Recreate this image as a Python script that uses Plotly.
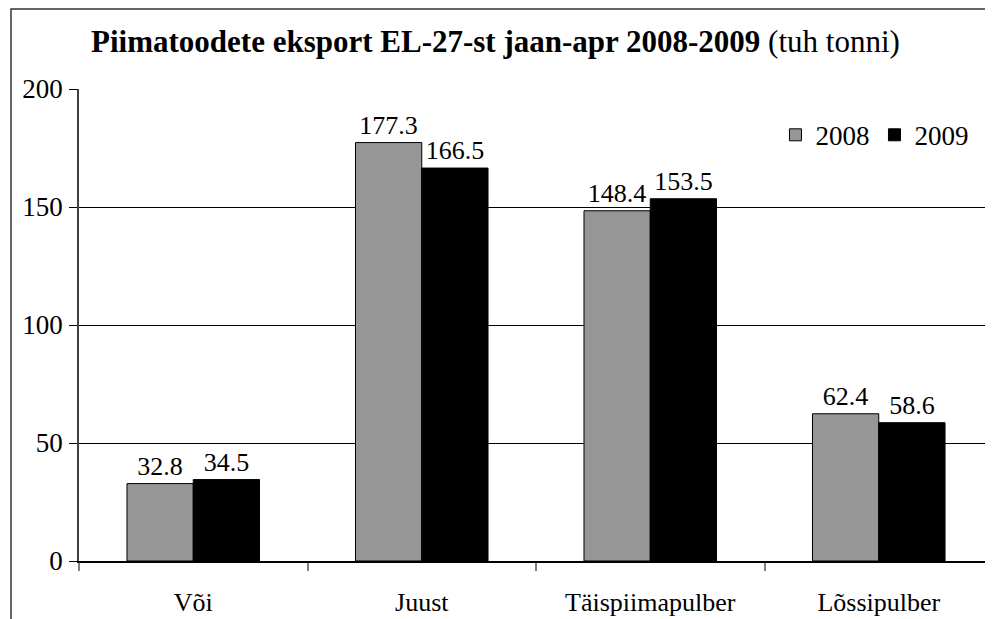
import plotly.graph_objects as go

categories = ["Või", "Juust", "Täispiimapulber", "Lõssipulber"]
values_2008 = [32.8, 177.3, 148.4, 62.4]
values_2009 = [34.5, 166.5, 153.5, 58.6]
labels_2008 = ["32.8", "177.3", "148.4", "62.4"]
labels_2009 = ["34.5", "166.5", "153.5", "58.6"]
y_ticks = [0, 50, 100, 150, 200]

FONT = "Liberation Serif"

fig = go.Figure()
fig.add_trace(go.Bar(
    name="2008", x=categories, y=values_2008, text=labels_2008,
    textposition="outside", cliponaxis=False,
    textfont=dict(family=FONT, size=26, color="black"),
    marker=dict(color="#969696", line=dict(color="black", width=1)),
))
fig.add_trace(go.Bar(
    name="2009", x=categories, y=values_2009, text=labels_2009,
    textposition="outside", cliponaxis=False,
    textfont=dict(family=FONT, size=26, color="black"),
    marker=dict(color="#000000", line=dict(color="black", width=1)),
))

fig.update_layout(
    width=985, height=611,
    margin=dict(l=71, r=0, t=81, b=58),
    paper_bgcolor="white", plot_bgcolor="white",
    font=dict(family=FONT, size=26, color="black"),
    barmode="group", bargap=0.42, bargroupgap=0,
    showlegend=True,
    legend=dict(orientation="h", x=0.762, y=0.902, xanchor="left", yanchor="middle",
                font=dict(family=FONT, size=27), bgcolor="rgba(0,0,0,0)",
                itemwidth=30, tracegroupgap=0),
    xaxis=dict(type="category", tickson="boundaries", ticks="outside", ticklen=8,
               tickcolor="#808080", tickwidth=1.5, showline=True, linecolor="black",
               linewidth=1.5, showgrid=False, ticklabelstandoff=17,
               tickfont=dict(family=FONT, size=26)),
    yaxis=dict(range=[0, 200], tickvals=y_ticks, ticks="outside", ticklen=8,
               tickcolor="black", showline=True, linecolor="#404040", linewidth=1.5,
               showgrid=True, gridcolor="black", gridwidth=1, zeroline=False,
               ticklabelstandoff=1, tickfont=dict(family=FONT, size=27)),
    annotations=[dict(
        text="<b>Piimatoodete eksport EL-27-st jaan-apr 2008-2009</b> (tuh tonni)",
        xref="paper", yref="paper", x=0.456, y=1.0996, xanchor="center", yanchor="middle",
        showarrow=False, font=dict(family=FONT, size=31, color="black"),
    )],
    shapes=[dict(type="rect", xref="paper", yref="paper",
                 x0=-0.0744, x1=1.05, y0=-0.3, y1=1.1695,
                 line=dict(color="#333333", width=1.5), layer="above")],
)

fig.write_html("out.html")
